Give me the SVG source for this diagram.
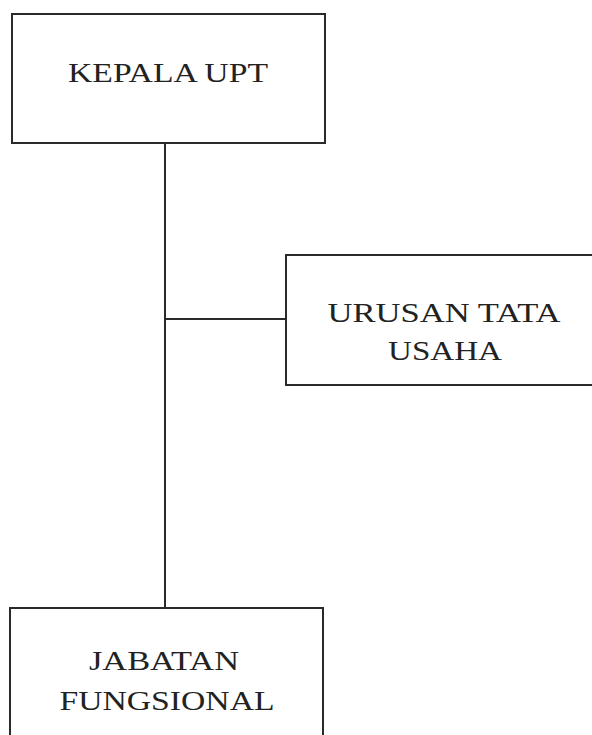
<svg xmlns="http://www.w3.org/2000/svg" width="592" height="735" viewBox="0 0 592 735">
<style>
.box{fill:#fff;stroke:#2a2a2a;stroke-width:2}
.lbl{font-family:"Liberation Serif","DejaVu Serif",serif;font-size:27.5px;fill:#222;text-anchor:middle}
.conn{stroke:#2a2a2a;stroke-width:2;fill:none}
</style>
<rect width="592" height="735" fill="#fff"/>
<g id="connectors">
<line class="conn" x1="165" y1="143" x2="165" y2="608"/>
<line class="conn" x1="165" y1="319" x2="286" y2="319"/>
</g>
<g id="kepala">
<rect class="box" x="12" y="14" width="313" height="129"/>
<text class="lbl" x="168" y="82" textLength="200" lengthAdjust="spacingAndGlyphs">KEPALA UPT</text>
</g>
<g id="urusan">
<rect class="box" x="286" y="255" width="320" height="130"/>
<text class="lbl" x="444" y="322" textLength="233" lengthAdjust="spacingAndGlyphs">URUSAN TATA</text>
<text class="lbl" x="445" y="360" textLength="114" lengthAdjust="spacingAndGlyphs">USAHA</text>
</g>
<g id="jabatan">
<rect class="box" x="10" y="608" width="313" height="140"/>
<text class="lbl" x="164" y="670" textLength="150" lengthAdjust="spacingAndGlyphs">JABATAN</text>
<text class="lbl" x="167" y="710" textLength="215" lengthAdjust="spacingAndGlyphs">FUNGSIONAL</text>
</g>
</svg>
